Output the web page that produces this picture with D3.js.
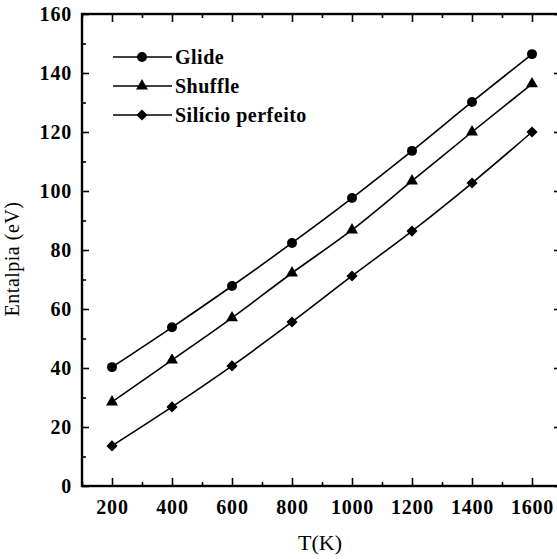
<!DOCTYPE html>
<html>
<head>
<meta charset="utf-8">
<script src="https://cdn.jsdelivr.net/npm/d3@7/dist/d3.min.js"></script>
<style>
  html, body { margin: 0; padding: 0; background: #fff; }
  svg { display: block; }
  text { font-family: "Liberation Serif", "DejaVu Serif", serif; fill: #000; }
</style>
</head>
<body>
<svg id="chart" width="557" height="559"></svg>
<script>
// Temperature (K) and enthalpy (eV) for each configuration
const temps = [200, 400, 600, 800, 1000, 1200, 1400, 1600];
const glide = [40.3, 53.8, 67.8, 82.4, 97.6, 113.6, 130.2, 146.4];
const shuffle = [28.5, 42.7, 57.0, 72.2, 86.8, 103.4, 120.0, 136.3];
const silicio = [13.6, 26.8, 40.7, 55.6, 71.2, 86.4, 102.7, 120.0];

const seriesNames = ["Glide", "Shuffle", "Silício perfeito"];
const xTicks = [200, 400, 600, 800, 1000, 1200, 1400, 1600];
const yTicks = [0, 20, 40, 60, 80, 100, 120, 140, 160];

// Marker shapes: filled circle, triangle and diamond (a square turned 45°)
const diamond = {
  draw(ctx, size) {
    const r = Math.sqrt(size / 2);
    ctx.moveTo(0, -r); ctx.lineTo(r, 0); ctx.lineTo(0, r); ctx.lineTo(-r, 0); ctx.closePath();
  }
};
const seriesSymbols = [d3.symbolCircle, d3.symbolTriangle, diamond];
const symbolSizes = [78, 62, 62];

const svg = d3.select("#chart");
const frame = { left: 82, top: 14, right: 562, bottom: 486 };

const x = d3.scaleLinear().domain([100, 1700]).range([frame.left, frame.right]);
const y = d3.scaleLinear().domain([0, 160]).range([frame.bottom, frame.top]);

const allSeries = [glide, shuffle, silicio];

// Inward ticks on all four sides (major + minor)
const g = svg.append("g");

function drawAxis(axisGen, transform) {
  const a = g.append("g").attr("transform", transform).call(axisGen);
  a.select(".domain").remove();
  a.selectAll(".tick line").attr("stroke", "#000").attr("stroke-width", 1.6);
  return a;
}

const xMinor = d3.range(100, 1701, 100).filter(v => v % 200 !== 0);
const yMinor = d3.range(0, 161, 10).filter(v => v % 20 !== 0);

function styleLabels(sel) {
  sel.selectAll("text")
    .attr("font-size", 20)
    .attr("font-weight", "bold")
    .attr("letter-spacing", "0.8px")
    .attr("font-family", "Liberation Serif");
}

// bottom
drawAxis(d3.axisTop(x).tickValues(xMinor).tickSize(4).tickFormat(""), `translate(0,${frame.bottom})`);
drawAxis(d3.axisTop(x).tickValues(xTicks).tickSize(8).tickFormat(""), `translate(0,${frame.bottom})`);
const xb = drawAxis(d3.axisBottom(x).tickValues(xTicks).tickSize(0).tickPadding(14).tickFormat(d3.format("d")), `translate(0,${frame.bottom})`);
styleLabels(xb);
// top
drawAxis(d3.axisBottom(x).tickValues(xMinor).tickSize(4).tickFormat(""), `translate(0,${frame.top})`);
drawAxis(d3.axisBottom(x).tickValues(xTicks).tickSize(8).tickFormat(""), `translate(0,${frame.top})`);
// left
drawAxis(d3.axisRight(y).tickValues(yMinor).tickSize(4).tickFormat(""), `translate(${frame.left},0)`);
drawAxis(d3.axisRight(y).tickValues(yTicks).tickSize(7).tickFormat(""), `translate(${frame.left},0)`);
const yl = drawAxis(d3.axisLeft(y).tickValues(yTicks).tickSize(0).tickPadding(10).tickFormat(d3.format("d")), `translate(${frame.left},0)`);
styleLabels(yl);
// right
drawAxis(d3.axisLeft(y).tickValues(yMinor).tickSize(4).tickFormat(""), `translate(${frame.right},0)`);
drawAxis(d3.axisLeft(y).tickValues(yTicks).tickSize(8).tickFormat(""), `translate(${frame.right},0)`);

// frame
g.append("rect")
  .attr("x", frame.left).attr("y", frame.top)
  .attr("width", frame.right - frame.left).attr("height", frame.bottom - frame.top)
  .attr("fill", "none").attr("stroke", "#000").attr("stroke-width", 2.4);

// series lines and markers
const line = d3.line()
  .x((d, i) => x(temps[i]))
  .y(d => y(d))
  .curve(d3.curveMonotoneX);

allSeries.forEach((vals, s) => {
  svg.append("path")
    .datum(vals)
    .attr("d", line)
    .attr("fill", "none")
    .attr("stroke", "#000")
    .attr("stroke-width", 1.6);
  svg.append("g").selectAll("path")
    .data(vals)
    .join("path")
    .attr("transform", (d, i) => `translate(${x(temps[i])},${y(d)})`)
    .attr("d", d3.symbol().type(seriesSymbols[s]).size(symbolSizes[s]))
    .attr("fill", "#000");
});

// legend
const legend = svg.append("g");
const legendY = [57, 86, 115];
seriesNames.forEach((name, s) => {
  const ly = legendY[s];
  legend.append("line")
    .attr("x1", 113).attr("x2", 172).attr("y1", ly).attr("y2", ly)
    .attr("stroke", "#000").attr("stroke-width", 1.5);
  legend.append("path")
    .attr("transform", `translate(142,${ly})`)
    .attr("d", d3.symbol().type(seriesSymbols[s]).size(symbolSizes[s]))
    .attr("fill", "#000");
  legend.append("text")
    .attr("x", 175).attr("y", ly)
    .attr("dy", "0.35em")
    .attr("font-size", 20)
    .attr("font-weight", "bold")
    .attr("letter-spacing", "0.5px")
    .text(name);
});

// axis titles
svg.append("text")
  .attr("x", 320).attr("y", 550)
  .attr("text-anchor", "middle")
  .attr("font-size", 22)
  .text("T(K)");

svg.append("text")
  .attr("transform", "translate(19,259) rotate(-90)")
  .attr("text-anchor", "middle")
  .attr("font-size", 20)
  .attr("letter-spacing", "0.5px")
  .text("Entalpia (eV)");
</script>
</body>
</html>
